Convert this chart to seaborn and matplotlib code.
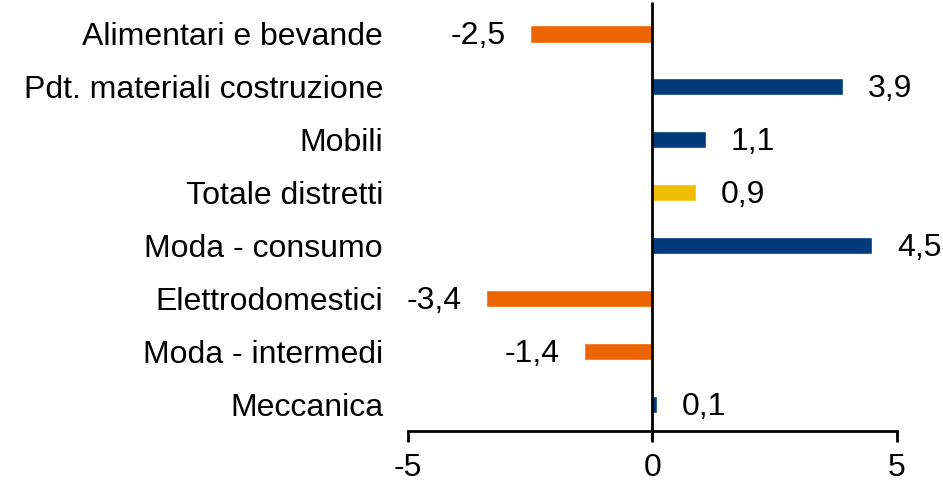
import pandas as pd
import numpy as np
import matplotlib.pyplot as plt
import seaborn as sns

categories = ['Alimentari e bevande', 'Pdt. materiali costruzione', 'Mobili',
              'Totale distretti', 'Moda - consumo', 'Elettrodomestici',
              'Moda - intermedi', 'Meccanica']
values = [-2.5, 3.9, 1.1, 0.9, 4.5, -3.4, -1.4, 0.1]
labels = ['-2,5', '3,9', '1,1', '0,9', '4,5', '-3,4', '-1,4', '0,1']

orange = '#EC6500'
blue = '#003A7A'
yellow = '#F0BE00'
colors = [yellow if c == 'Totale distretti' else (orange if v < 0 else blue)
          for c, v in zip(categories, values)]

df = pd.DataFrame({'cat': categories, 'val': values})

sns.set_style('white')
plt.rcParams['font.family'] = ['Liberation Sans', 'DejaVu Sans']
plt.rcParams['text.color'] = 'black'

fig, ax = plt.subplots(figsize=(9.43, 4.87), dpi=100)
fig.subplots_adjust(left=0.4327, right=0.951, top=0.985, bottom=0.115)

sns.barplot(data=df, x='val', y='cat', hue='cat', palette=colors, legend=False,
            orient='h', width=0.33, saturation=1, ax=ax)

# zero line, runs a bit past the bottom axis like in the original
ax.axvline(0, color='black', lw=2, ymin=-0.018, ymax=1.01, zorder=3, clip_on=False)
ax.set_xlim(-5, 5)
ax.set_ylim(7.5, -0.5)
ax.set_xticks([-5, 0, 5])
ax.set_xticklabels(['-5', '0', '5'])
ax.set_xlabel('')
ax.set_ylabel('')

for s in ['top', 'right', 'left']:
    ax.spines[s].set_visible(False)
ax.spines['bottom'].set_bounds(-5, 5)
ax.spines['bottom'].set_linewidth(2)
ax.spines['bottom'].set_color('black')
ax.tick_params(axis='x', direction='out', length=8, width=2, colors='black',
               labelsize=23, pad=8, bottom=True)
ax.tick_params(axis='y', length=0, labelsize=23, pad=18, labelcolor='black')

for i, (v, t) in enumerate(zip(values, labels)):
    if v < 0:
        ax.text(v - 0.5, i + 0.05, t, ha='right', va='center', fontsize=23, color='black')
    else:
        ax.text(v + 0.5, i + 0.05, t, ha='left', va='center', fontsize=23, color='black')

fig.savefig('out.png', dpi=100)
